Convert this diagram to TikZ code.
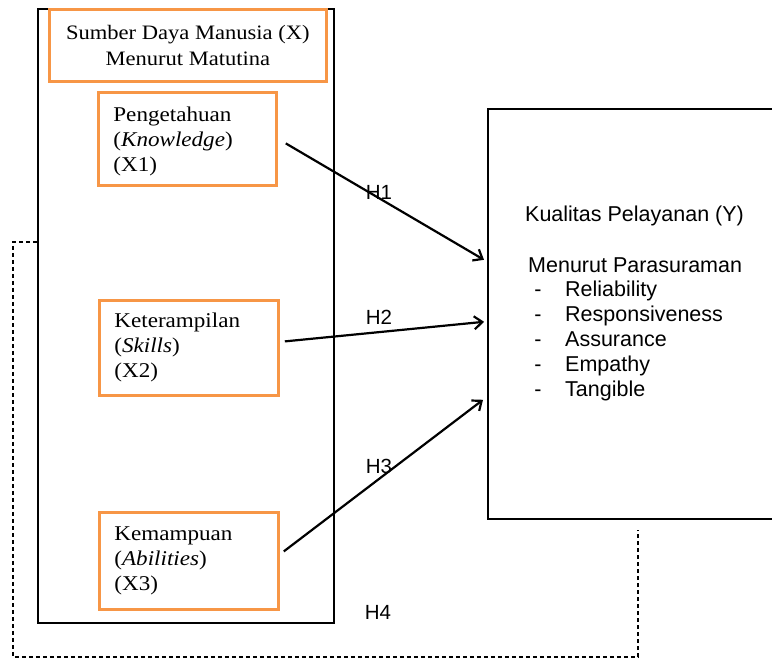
\documentclass[tikz,border=0pt]{standalone}
\usepackage{fontspec}
\newfontfamily\arialf{Liberation Sans}
\setmainfont{Liberation Serif}[FakeStretch=1.1]
\usetikzlibrary{arrows.meta}
\definecolor{orng}{HTML}{F79646}
\begin{document}
\begin{tikzpicture}[x=1pt,y=-1pt,
  outerbox/.style={draw=black, line width=1.6pt, rectangle, inner sep=0pt, anchor=north west},
  obox/.style={draw=orng, line width=2.8pt, rectangle, inner sep=0pt, anchor=north west},
  xbox/.style={obox, inner xsep=15pt, align=left, font=\fontsize{21}{25}\selectfont},
  ybox/.style={draw=black, line width=1.6pt, rectangle, inner sep=0pt, anchor=north west},
  sanstxt/.style={font=\arialf\fontsize{21.5}{25}\selectfont, inner sep=0pt},
  hlab/.style={font=\arialf\fontsize{20.5}{24}\selectfont, inner sep=0pt},
  arr/.style={line width=2.2pt, -{Straight Barb[length=8pt,width=13pt]}},
  dsh/.style={line width=1.8pt, dash pattern=on 4pt off 3pt}
]
\clip (0,0) rectangle (772,661);
\fill[white] (0,0) rectangle (772,661);
% outer X box
\node[outerbox, minimum width=296pt, minimum height=614pt] (outer) at (37,8) {};
% title
\node[obox, minimum width=277pt, minimum height=72pt, align=center,
      font=\fontsize{20.5}{26}\selectfont] (title) at (48,8)
  {Sumber Daya Manusia (X)\\Menurut Matutina};
% sub boxes
\node[xbox, text width=148pt, minimum height=93pt] (k1) at (97,91)
  {\rule{0pt}{20pt}Pengetahuan\\(\textit{Knowledge})\\(X1)};
\node[xbox, text width=149pt, minimum height=95pt] (k2) at (98,299)
  {Keterampilan\\(\textit{Skills})\\(X2)};
\node[xbox, text width=149pt, minimum height=97pt] (k3) at (98,511)
  {Kemampuan\\(\textit{Abilities})\\(X3)};
% Y box
\node[ybox, minimum width=320pt, minimum height=410pt] (y) at (487,108) {};
\node[sanstxt, anchor=base west] (yt1) at (525,221) {Kualitas Pelayanan (Y)};
\node[sanstxt, anchor=base west] (yt2) at (528,272) {Menurut Parasuraman};
\foreach \i/\t/\yy in {1/Reliability/296, 2/Responsiveness/321, 3/Assurance/346, 4/Empathy/371, 5/Tangible/396}{
  \node[sanstxt, anchor=base] (yd\i) at (538,\yy) {-};
  \node[sanstxt, anchor=base west] (yi\i) at (565,\yy) {\t};
}
% arrows
\draw[arr] ([shift={(8,4.5)}]k1.east) -- ([shift={(-3,-54)}]y.west);
\draw[arr] ([shift={(5,-6.5)}]k2.east) -- ([shift={(-3,8)}]y.west);
\draw[arr] ([shift={(4,-9.5)}]k3.east) -- ([shift={(-4,86)}]y.west);
% labels
\node[hlab] (h1) at (379,192) {H1};
\node[hlab] (h2) at (379,317) {H2};
\node[hlab] (h3) at (379,466) {H3};
\node[hlab] (h4) at (378,612) {H4};
% dashed H4 path
\coordinate (h4end) at (638,530);
\draw[dsh] ([yshift=74pt]outer.west) -| (13,657) -| (h4end);
\end{tikzpicture}
\end{document}
